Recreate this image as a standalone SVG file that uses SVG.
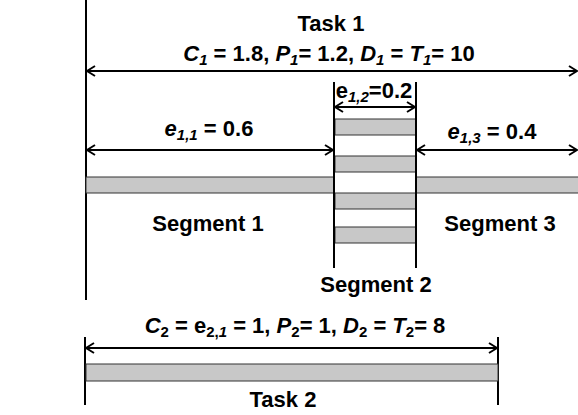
<svg xmlns="http://www.w3.org/2000/svg" width="578" height="415" viewBox="0 0 578 415">
  <style>
    .lbl { font-family: "Liberation Sans", Arial, sans-serif; font-weight: bold; font-size: 22px; fill: #000; }
    .it { font-style: italic; }
    .sub { font-size: 15px; }
    .rail { stroke: #000; stroke-width: 2; fill: none; }
    .dim { stroke: #000; stroke-width: 2; fill: none; marker-start: url(#tipL); marker-end: url(#tipR); }
    .bar { fill: #c8c8c8; stroke: #333; stroke-width: 1; }
  </style>
  <defs>
    <marker id="tipR" viewBox="0 0 10 12" refX="9" refY="6" markerWidth="10" markerHeight="12" markerUnits="userSpaceOnUse" orient="auto">
      <path d="M1,1 L9,6 L1,11" fill="none" stroke="#000" stroke-width="2"/>
    </marker>
    <marker id="tipL" viewBox="0 0 10 12" refX="1" refY="6" markerWidth="10" markerHeight="12" markerUnits="userSpaceOnUse" orient="auto">
      <path d="M9,1 L1,6 L9,11" fill="none" stroke="#000" stroke-width="2"/>
    </marker>
  </defs>

  <!-- Task 1 -->
  <g id="task1">
    <line class="rail" x1="86" y1="0" x2="86" y2="300"/>
    <rect class="bar" x="86" y="177" width="248" height="16"/>
    <rect class="bar" x="416" y="177" width="163" height="16"/>
    <text class="lbl" x="331" y="31" text-anchor="middle">Task 1</text>
    <text class="lbl" x="329" y="61" text-anchor="middle"><tspan class="it">C</tspan><tspan class="sub it" dy="4">1</tspan><tspan dy="-4"> = 1.8, </tspan><tspan class="it">P</tspan><tspan class="sub it" dy="4">1</tspan><tspan dy="-4">= 1.2, </tspan><tspan class="it">D</tspan><tspan class="sub it" dy="4">1</tspan><tspan dy="-4"> = </tspan><tspan class="it">T</tspan><tspan class="sub it" dy="4">1</tspan><tspan dy="-4">= 10</tspan></text>
  </g>

  <!-- Segment 1 -->
  <g id="segment1">
    <text class="lbl" x="209" y="136" text-anchor="middle"><tspan class="it">e</tspan><tspan class="sub it" dy="4">1,1</tspan><tspan dy="-4"> = 0.6</tspan></text>
    <text class="lbl" x="208" y="231" text-anchor="middle">Segment 1</text>
  </g>

  <!-- Segment 2 -->
  <g id="segment2">
    <rect class="bar" x="335" y="119" width="81" height="16"/>
    <rect class="bar" x="335" y="156" width="81" height="16"/>
    <rect class="bar" x="335" y="193" width="81" height="16"/>
    <rect class="bar" x="335" y="227" width="81" height="16"/>
    <line class="rail" x1="334" y1="82" x2="334" y2="268"/>
    <line class="rail" x1="416" y1="82" x2="416" y2="268"/>
    <text class="lbl" x="374" y="98" text-anchor="middle">e<tspan class="sub it" dy="4">1,2</tspan><tspan dy="-4">=0.2</tspan></text>
    <text class="lbl" x="376" y="292" text-anchor="middle">Segment 2</text>
  </g>

  <!-- Segment 3 -->
  <g id="segment3">
    <text class="lbl" x="492" y="139" text-anchor="middle"><tspan class="it">e</tspan><tspan class="sub it" dy="4">1,3</tspan><tspan dy="-4"> = 0.4</tspan></text>
    <text class="lbl" x="500" y="231" text-anchor="middle">Segment 3</text>
  </g>

  <!-- Task 2 -->
  <g id="task2">
    <line class="rail" x1="85" y1="337" x2="85" y2="405"/>
    <line class="rail" x1="498" y1="337" x2="498" y2="405"/>
    <rect class="bar" x="86" y="364" width="412" height="17"/>
    <text class="lbl" x="295" y="333" text-anchor="middle"><tspan class="it">C</tspan><tspan class="sub" dy="4">2</tspan><tspan dy="-4"> = e</tspan><tspan class="sub" dy="4">2,</tspan><tspan class="sub it">1</tspan><tspan dy="-4"> = 1, </tspan><tspan class="it">P</tspan><tspan class="sub" dy="4">2</tspan><tspan dy="-4">= 1, </tspan><tspan class="it">D</tspan><tspan class="sub" dy="4">2</tspan><tspan dy="-4"> = </tspan><tspan class="it">T</tspan><tspan class="sub" dy="4">2</tspan><tspan dy="-4">= 8</tspan></text>
    <text class="lbl" x="283" y="407" text-anchor="middle">Task 2</text>
  </g>

  <!-- dimension arrows -->
  <g id="connectors">
    <line class="dim" x1="87" y1="71" x2="577" y2="71"/>
    <line class="dim" x1="335" y1="107" x2="415" y2="107"/>
    <line class="dim" x1="87" y1="150" x2="333" y2="150"/>
    <line class="dim" x1="417" y1="150" x2="577" y2="150"/>
    <line class="dim" x1="86" y1="348" x2="497" y2="348"/>
  </g>
</svg>
